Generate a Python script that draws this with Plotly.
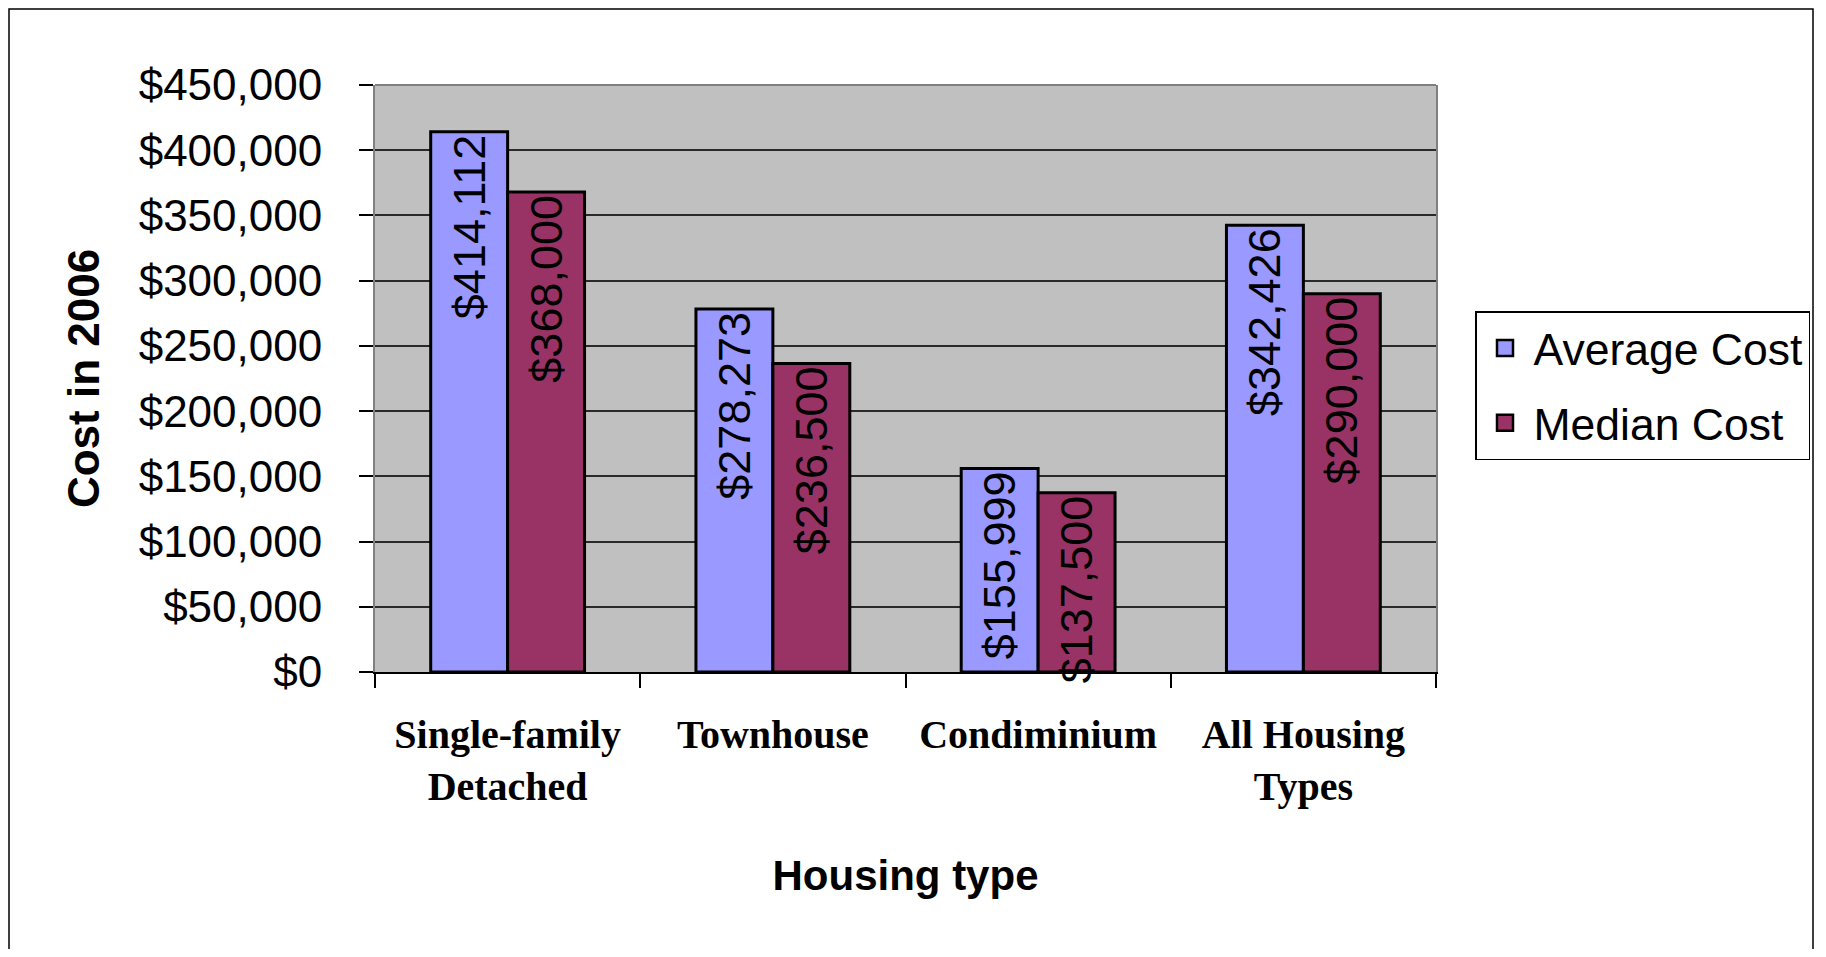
import plotly.graph_objects as go

# ---- data ----
categories = ["Single-family<br>Detached", "Townhouse", "Condiminium", "All Housing<br>Types"]
average_cost = [414112, 278273, 155999, 342426]
median_cost = [368000, 236500, 137500, 290000]
series_names = ["Average Cost", "Median Cost"]
y_ticks = [0, 50000, 100000, 150000, 200000, 250000, 300000, 350000, 400000, 450000]
y_tick_labels = ["$" + format(v, ",") for v in y_ticks]

# ---- layout constants (page body has an 8px margin) ----
W, H = 1810, 941
L, R, T, B = 367, 382, 77, 277
PW, PH = W - L - R, H - T - B

colors = ["#9999FF", "#993366"]
SANS = "Liberation Sans, Arial, sans-serif"
SERIF = "Liberation Serif, Times New Roman, serif"

fig = go.Figure()
for i, (name, vals) in enumerate(zip(series_names, [average_cost, median_cost])):
    fig.add_trace(go.Bar(
        x=categories, y=vals, name=name, showlegend=False,
        marker=dict(color=colors[i], line=dict(color="black", width=3)),
        texttemplate="$%{y:,}", textposition="inside", insidetextanchor="end",
        textangle=-90, constraintext="none", cliponaxis=False,
        textfont=dict(family=SANS, size=45, color="black"),
    ))
# legend entries (larger square swatches than the default bar icon)
for i, name in enumerate(series_names):
    fig.add_trace(go.Scatter(
        x=[None], y=[None], mode="markers", name=name,
        marker=dict(symbol="square", size=16, color=colors[i], line=dict(color="black", width=2.5)),
        legendgroup=f"g{i}", hoverinfo="skip",
    ))

fig.update_layout(
    width=W, height=H,
    margin=dict(l=L, r=R, t=T, b=B, autoexpand=False),
    barmode="group", bargap=0.42, bargroupgap=0,
    plot_bgcolor="#C0C0C0", paper_bgcolor="white",
    font=dict(family=SANS, color="black"),
    showlegend=True,
    legend=dict(
        x=(1467 - L) / PW, y=(T + PH - 303) / PH, xanchor="left", yanchor="top",
        bordercolor="black", borderwidth=1.5, bgcolor="white",
        font=dict(family=SANS, size=44.5, color="black"),
        traceorder="grouped", tracegroupgap=14, itemwidth=47,
    ),
    xaxis=dict(
        showline=True, linecolor="black", linewidth=1.5,
        ticks="outside", tickson="boundaries", ticklen=14, tickcolor="black", tickwidth=1.5,
        tickfont=dict(family=SERIF, size=40, color="black", weight="bold"),
        ticklabelstandoff=26,
        title=dict(text="Housing type", font=dict(family=SANS, size=42, color="black", weight="bold"), standoff=53),
        showgrid=False,
    ),
    yaxis=dict(
        range=[0, 450000], tickvals=y_ticks, ticktext=y_tick_labels,
        showgrid=True, gridcolor="#2a2a2a", gridwidth=1.5, zeroline=False,
        showline=True, linecolor="#808080", linewidth=2, mirror=True,
        ticks="outside", ticklen=14, tickcolor="black", tickwidth=1.5,
        tickfont=dict(family=SANS, size=44, color="black"),
        ticklabelstandoff=28,
        title=dict(text="Cost in 2006", font=dict(family=SANS, size=44, color="black", weight="bold"), standoff=25),
    ),
    shapes=[
        dict(type="line", xref="paper", yref="paper", x0=0, x1=1, y0=1, y1=1,
             line=dict(color="#808080", width=2)),
        dict(type="rect", xref="paper", yref="paper",
             x0=(1 - L) / PW, x1=(1805 - L) / PW, y0=(T + PH - 970) / PH, y1=(T + PH - 1) / PH,
             line=dict(color="black", width=1.5), layer="below"),
    ],
)

fig.write_html("out.html")
